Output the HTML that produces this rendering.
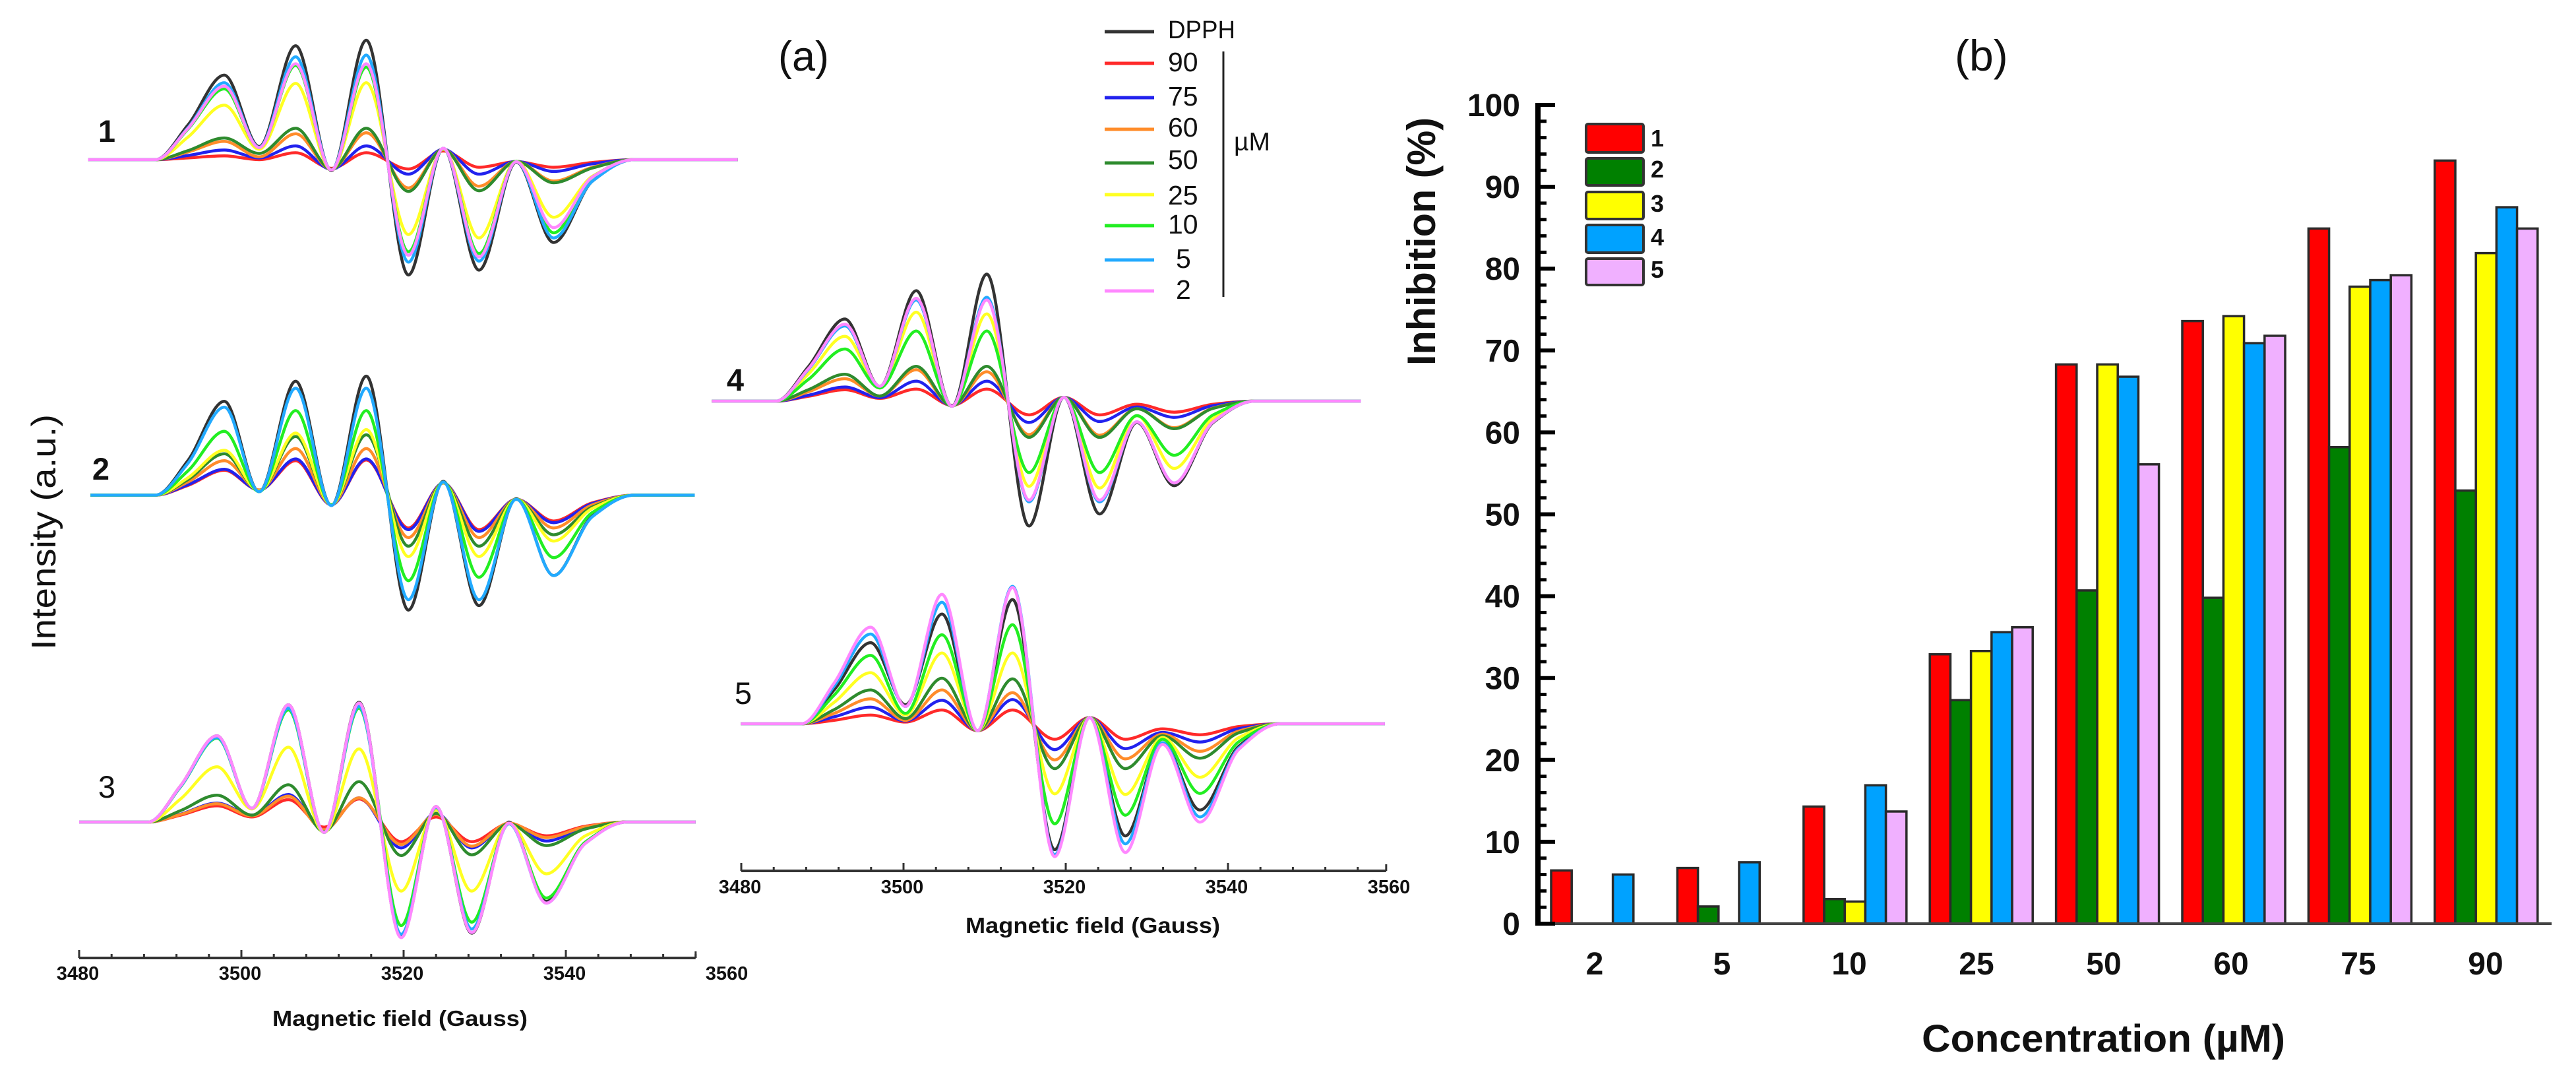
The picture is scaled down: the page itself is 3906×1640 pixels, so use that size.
<!DOCTYPE html>
<html lang="en">
<head>
<meta charset="utf-8">
<title>EPR spectra and inhibition chart</title>
<style>
html,body{margin:0;padding:0;background:#fff}
svg{display:block}
text{font-family:"Liberation Sans",Arial,sans-serif;fill:#111}
.b{font-weight:bold}
</style>
</head>
<body>
<svg id="figure" xmlns="http://www.w3.org/2000/svg" width="3906" height="1640" viewBox="0 0 3906 1640">
<rect x="0" y="0" width="3906" height="1640" fill="#fff"/>
<g id="spectra"></g>
<g id="bars"></g>

<text x="1180" y="107" font-size="63">(a)</text>
<text x="2964" y="107" font-size="66">(b)</text>
<text transform="translate(84,985) rotate(-90)" font-size="52" textLength="357" lengthAdjust="spacingAndGlyphs">Intensity (a.u.)</text>
<text class="b" x="162" y="215" font-size="47" text-anchor="middle">1</text>
<text class="b" x="153" y="727" font-size="47" text-anchor="middle">2</text>
<text x="162" y="1209" font-size="47" text-anchor="middle">3</text>
<text class="b" x="1115" y="592" font-size="47" text-anchor="middle">4</text>
<text x="1127" y="1067" font-size="47" text-anchor="middle">5</text>
<text class="b" x="413" y="1555" font-size="33" textLength="387" lengthAdjust="spacingAndGlyphs">Magnetic field (Gauss)</text>
<text class="b" x="1464" y="1414" font-size="33" textLength="386" lengthAdjust="spacingAndGlyphs">Magnetic field (Gauss)</text>

<g>
  <line x1="1675" x2="1750" y1="48" y2="48" stroke="#333" stroke-width="5"/>
  <line x1="1675" x2="1750" y1="96" y2="96" stroke="#ff2a2a" stroke-width="5"/>
  <line x1="1675" x2="1750" y1="148" y2="148" stroke="#2222ee" stroke-width="5"/>
  <line x1="1675" x2="1750" y1="196" y2="196" stroke="#ff8c2a" stroke-width="5"/>
  <line x1="1675" x2="1750" y1="247" y2="247" stroke="#2e8b2e" stroke-width="5"/>
  <line x1="1675" x2="1750" y1="295" y2="295" stroke="#ffff22" stroke-width="5"/>
  <line x1="1675" x2="1750" y1="342" y2="342" stroke="#22ee22" stroke-width="5"/>
  <line x1="1675" x2="1750" y1="394" y2="394" stroke="#22aaff" stroke-width="5"/>
  <line x1="1675" x2="1750" y1="441" y2="441" stroke="#ff88ff" stroke-width="5"/>
  <text x="1771" y="58" font-size="38" textLength="102" lengthAdjust="spacingAndGlyphs">DPPH</text>
  <text x="1771" y="108" font-size="41">90</text>
  <text x="1771" y="160" font-size="41">75</text>
  <text x="1771" y="207" font-size="41">60</text>
  <text x="1771" y="256" font-size="41">50</text>
  <text x="1771" y="310" font-size="41">25</text>
  <text x="1771" y="354" font-size="41">10</text>
  <text x="1783" y="406" font-size="41">5</text>
  <text x="1783" y="453" font-size="41">2</text>
  <line x1="1855" x2="1855" y1="78" y2="450" stroke="#222" stroke-width="3"/>
  <text x="1871" y="228" font-size="39">µM</text>
</g>

<text class="b" transform="translate(2176,554) rotate(-90)" font-size="60" textLength="376" lengthAdjust="spacingAndGlyphs">Inhibition  (%)</text>
<text class="b" x="2914" y="1594" font-size="58" textLength="551" lengthAdjust="spacingAndGlyphs">Concentration (µM)</text>

<g>
  <rect x="2405" y="188" width="87" height="43" rx="3" fill="#ff0000" stroke="#333" stroke-width="4"/>
  <rect x="2405" y="240" width="87" height="41" rx="3" fill="#008000" stroke="#333" stroke-width="4"/>
  <rect x="2405" y="291" width="87" height="41" rx="3" fill="#ffff00" stroke="#333" stroke-width="4"/>
  <rect x="2405" y="341" width="87" height="42" rx="3" fill="#00a2ff" stroke="#333" stroke-width="4"/>
  <rect x="2405" y="392" width="87" height="40" rx="3" fill="#f0b0ff" stroke="#333" stroke-width="4"/>
  <text class="b" x="2503" y="222" font-size="36">1</text>
  <text class="b" x="2503" y="269" font-size="36">2</text>
  <text class="b" x="2503" y="321" font-size="36">3</text>
  <text class="b" x="2503" y="372" font-size="36">4</text>
  <text class="b" x="2503" y="421" font-size="36">5</text>
</g>
</svg>

<script>
// ---------- Bar chart data ----------
const concentrations = ['2','5','10','25','50','60','75','90'];
const inhibition1 = [6.5,6.8,14.3,32.9,68.3,73.6,84.9,93.2];
const inhibition2 = [0,2.1,3.0,27.3,40.7,39.8,58.2,52.9];
const inhibition3 = [0,0,2.7,33.3,68.3,74.2,77.8,81.9];
const inhibition4 = [6,7.5,16.9,35.6,66.8,70.9,78.6,87.5];
const inhibition5 = [0,0,13.7,36.2,56.1,71.8,79.2,84.9];
const inhibitionTicks = [0,10,20,30,40,50,60,70,80,90,100];

// ---------- Spectrum data ----------
// Field positions (Gauss) of the read-off points: flank, peak, trough, peak, trough, peak,
// valley, peak, valley, peak, valley, tail
const fieldKnots = [3492.5,3497,3501.3,3505.8,3510.2,3514.5,3519.7,3524,3528.4,3533,3537.6,3542.4];
const footStart = 3488.5;
const footEnd = 3547.5;
const fieldTicks = [3480,3500,3520,3540,3560];
// Series in row order: DPPH, 90, 75, 60, 50, 25, 10, 5, 2 (µM)
const seriesNames = ['DPPH','90','75','60','50','25','10','5','2'];
const spectrum1 = [
  [100,245,38,330,-32,346,-334,33,-320,-7,-240,-62],
  [5,11,0,20,-25,20,-27,25,-22,-6,-22,-8],
  [12,28,5,40,-28,40,-42,30,-42,-5,-34,-12],
  [22,53,8,75,-28,78,-82,30,-77,-5,-62,-22],
  [26,63,18,91,-28,91,-92,30,-90,-5,-67,-24],
  [65,158,30,221,-30,223,-217,30,-227,-5,-167,-48],
  [88,205,35,273,-30,268,-267,32,-272,-5,-212,-50],
  [92,223,36,298,-30,303,-297,33,-294,-6,-227,-62],
  [90,213,35,278,-30,278,-277,33,-282,-6,-197,-50]
];
const spectrum2 = [
  [100,272,10,330,-30,345,-333,40,-320,-10,-233,-60],
  [28,72,15,100,-28,102,-95,35,-100,-12,-75,-22],
  [30,75,15,105,-28,105,-100,35,-105,-12,-80,-24],
  [38,100,15,135,-28,135,-123,35,-123,-12,-95,-28],
  [45,120,12,170,-28,175,-148,36,-148,-12,-115,-34],
  [50,130,12,180,-28,190,-178,36,-178,-12,-133,-38],
  [70,185,10,245,-28,245,-248,38,-238,-12,-181,-50],
  [92,255,10,310,-30,310,-303,38,-303,-12,-233,-62],
  []
];
const spectrum3 = [
  [105,250,40,340,-30,347,-333,45,-322,0,-230,-60],
  [20,47,15,65,-15,67,-57,15,-57,-5,-40,-12],
  [23,55,20,80,-22,70,-75,25,-75,-3,-55,-16],
  [22,53,18,75,-22,70,-65,22,-70,-3,-45,-14],
  [33,78,20,108,-28,117,-97,25,-95,-5,-68,-20],
  [67,160,38,217,-30,212,-200,35,-200,-5,-150,-40],
  [102,243,40,325,-30,330,-300,42,-290,-5,-220,-58],
  [103,245,40,330,-30,335,-325,43,-310,-5,-235,-62],
  [105,250,40,340,-30,345,-335,45,-320,-3,-235,-62]
];
const spectrum4 = [
  [100,238,43,320,-15,368,-362,11,-327,-62,-245,-62],
  [14,33,8,35,-12,35,-40,11,-40,-9,-32,-9],
  [17,41,10,58,-13,58,-62,11,-59,-17,-47,-13],
  [27,65,15,91,-14,85,-97,11,-99,-22,-77,-20],
  [33,78,15,101,-14,101,-105,11,-105,-22,-80,-21],
  [79,188,40,258,-15,253,-247,11,-252,-42,-195,-50],
  [63,151,38,203,-15,203,-207,11,-207,-42,-157,-40],
  [92,218,43,293,-15,301,-292,11,-292,-60,-237,-60],
  [94,223,43,298,-15,293,-287,11,-287,-60,-237,-60]
];
const spectrum5 = [
  [98,235,55,318,-20,360,-365,18,-325,-55,-250,-65],
  [10,25,5,40,-20,40,-45,18,-45,-15,-32,-8],
  [20,48,8,68,-20,70,-75,18,-72,-25,-53,-14],
  [30,72,10,98,-20,90,-105,18,-102,-30,-80,-21],
  [41,98,15,132,-20,130,-130,18,-130,-35,-100,-26],
  [62,148,25,205,-20,205,-203,18,-205,-40,-155,-40],
  [83,198,30,258,-20,287,-290,18,-265,-45,-202,-52],
  [109,260,50,352,-20,398,-380,18,-348,-55,-270,-70],
  [118,280,50,375,-20,395,-385,18,-373,-60,-285,-74]
];
const spectra = [spectrum1,spectrum2,spectrum3,spectrum4,spectrum5];

// ---------- Layout and styles ----------
const NS = 'http://www.w3.org/2000/svg';
const seriesColors = ['#333333','#ff2a2a','#2222ee','#ff8c2a','#2e8b2e','#ffff22','#22ee22','#22aaff','#ff88ff'];
const panelFrames = [
  {origin:131, base:242,  from:3480.2, to:3560.3},
  {origin:131, base:750.5,from:3480.5, to:3555},
  {origin:120, base:1246, from:3480,   to:3556},
  {origin:1072,base:608,  from:3480.6, to:3560.6},
  {origin:1111,base:1097, from:3481,   to:3560.4}
];
const axisFrames = [
  {origin:120, y:1452, end:3556,   labelY:1485},
  {origin:1124,y:1320, end:3559.5, labelY:1354}
];
const FIELD_SCALE = 12.3;
const INTENSITY_SCALE = 0.523;

function make(tag, attrs, parent){
  const el = document.createElementNS(NS, tag);
  for (const k in attrs) el.setAttribute(k, attrs[k]);
  parent.appendChild(el);
  return el;
}
function xField(frame, g){ return frame.origin + FIELD_SCALE * (g - 3480); }
function yIntensity(frame, v){ return frame.base - INTENSITY_SCALE * v; }

// Monotone cubic path so extrema stay at the read-off values
function smoothPath(pts){
  const n = pts.length, d = [], m = [];
  for (let i = 0; i < n - 1; i++) d.push((pts[i+1][1]-pts[i][1])/(pts[i+1][0]-pts[i][0]));
  m[0] = 0; m[n-1] = 0;
  for (let i = 1; i < n - 1; i++){
    m[i] = d[i-1]*d[i] <= 0 ? 0 : 2*d[i-1]*d[i]/(d[i-1]+d[i]);
  }
  let s = 'M' + pts[0][0].toFixed(1) + ' ' + pts[0][1].toFixed(1);
  for (let i = 0; i < n - 1; i++){
    const h = (pts[i+1][0]-pts[i][0])/3;
    s += ' C' + (pts[i][0]+h).toFixed(1) + ' ' + (pts[i][1]+m[i]*h).toFixed(1) + ' ' +
         (pts[i+1][0]-h).toFixed(1) + ' ' + (pts[i+1][1]-m[i+1]*h).toFixed(1) + ' ' +
         pts[i+1][0].toFixed(1) + ' ' + pts[i+1][1].toFixed(1);
  }
  return s;
}

// ---------- Draw spectra ----------
const spectraRoot = document.getElementById('spectra');
spectra.forEach(function(rows, p){
  const frame = panelFrames[p];
  const group = make('g', {}, spectraRoot);
  
  
  rows.forEach(function(row, s){
    if (!row.length) return;
    const fields = [frame.from, footStart].concat(fieldKnots, [footEnd, frame.to]);
    const values = [0, 0].concat(row, [0, 0]);
    const pts = fields.map(function(g, i){ return [xField(frame, g), yIntensity(frame, values[i])]; });
    const path = make('path', {d: smoothPath(pts), fill:'none', stroke: seriesColors[s], 'stroke-width': 4.5, 'stroke-linejoin':'round'}, group);
    
    
  });
});

// ---------- Draw field axes ----------
axisFrames.forEach(function(frame, a){
  const group = make('g', {}, spectraRoot);
  
  
  const line = make('line', {x1:xField(frame,3480), x2:xField(frame,frame.end), y1:frame.y, y2:frame.y, stroke:'#333', 'stroke-width':4}, group);
  
  
  for (let g = 3480; g <= frame.end; g += 4){
    const major = (g - 3480) % 20 === 0;
    const tick = make('line', {x1:xField(frame,g), x2:xField(frame,g), y1:frame.y, y2:frame.y-(major?12:6), stroke:'#333', 'stroke-width':3}, group);
    
    
  }
  const endTick = make('line', {x1:xField(frame,frame.end), x2:xField(frame,frame.end), y1:frame.y, y2:frame.y-10, stroke:'#333', 'stroke-width':3}, group);
  
  
  fieldTicks.forEach(function(g){
    const label = make('text', {x:xField(frame,g)-2, y:frame.labelY, 'font-size':29, 'text-anchor':'middle', 'font-weight':'bold'}, group);
    label.textContent = g;
    
    
  });
});

// ---------- Draw bar chart ----------
const Y_ZERO = 1400, Y_SCALE = 12.41, GROUP_START = 2352, GROUP_PITCH = 191.4, BAR_WIDTH = 31.2;
const AXIS_X = 2332, AXIS_END = 3869;
const barColors = ['#ff0000','#008000','#ffff00','#00a2ff','#f0b0ff'];
const barSeries = [inhibition1,inhibition2,inhibition3,inhibition4,inhibition5];
function yValue(v){ return Y_ZERO - Y_SCALE * v; }
function xBar(g, s){ return GROUP_START + GROUP_PITCH * g + BAR_WIDTH * s; }
function xCategory(g){ return 2418 + 193 * g; }

const barsRoot = document.getElementById('bars');
barSeries.forEach(function(values, s){
  values.forEach(function(v, g){
    if (!v) return;
    const bar = make('rect', {x:xBar(g,s), y:yValue(v), width:BAR_WIDTH, height:Y_ZERO-yValue(v), fill:barColors[s], stroke:'#2a2a2a', 'stroke-width':3.5}, barsRoot);
    
    
  });
});
const xAxisLine = make('line', {x1:AXIS_X, x2:AXIS_END, y1:Y_ZERO, y2:Y_ZERO, stroke:'#444', 'stroke-width':4}, barsRoot);


const yAxisLine = make('line', {x1:AXIS_X, x2:AXIS_X, y1:yValue(100)-3, y2:Y_ZERO+3, stroke:'#000', 'stroke-width':8}, barsRoot);


for (let t = 0; t <= 100; t += 2){
  const major = t % 10 === 0;
  const tick = make('line', {x1:AXIS_X, x2:AXIS_X+(major?26:13), y1:yValue(t), y2:yValue(t), stroke:'#000', 'stroke-width':major?6:5}, barsRoot);
  
  
}
inhibitionTicks.forEach(function(t){
  const label = make('text', {x:2305, y:yValue(t)+17, 'font-size':48, 'text-anchor':'end', 'font-weight':'bold'}, barsRoot);
  label.textContent = t;
  
  
});
concentrations.forEach(function(c, g){
  const label = make('text', {x:xCategory(g), y:1477, 'font-size':48, 'text-anchor':'middle', 'font-weight':'bold'}, barsRoot);
  label.textContent = c;
  
  
});
</script>
</body>
</html>
